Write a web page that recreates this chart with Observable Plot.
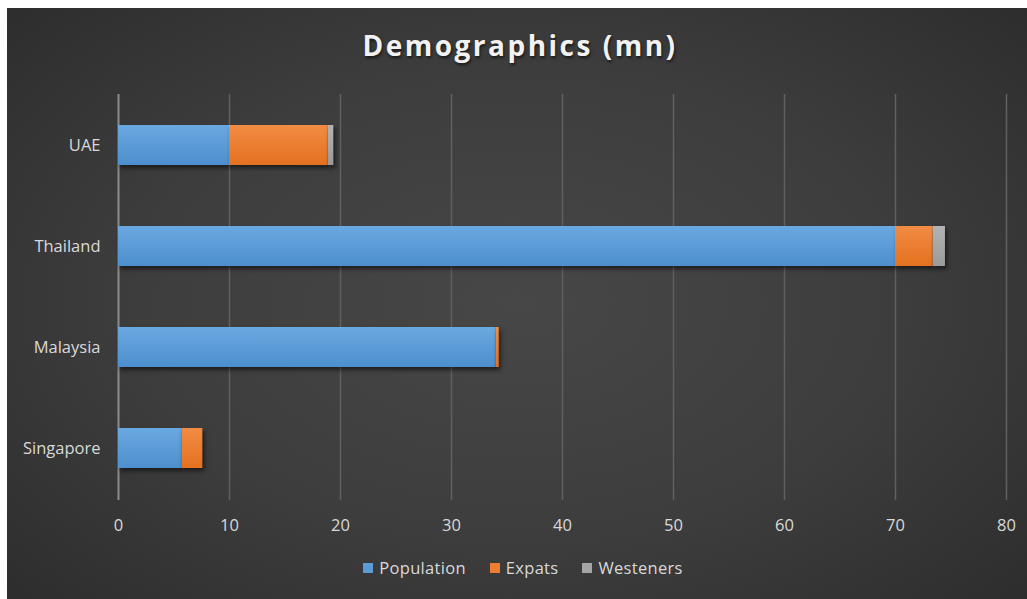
<!DOCTYPE html>
<html>
<head>
<meta charset="utf-8">
<script src="https://cdn.jsdelivr.net/npm/d3@7"></script>
<script src="https://cdn.jsdelivr.net/npm/@observablehq/plot@0.6"></script>
<style>
  html, body { margin: 0; padding: 0; background: #ffffff; }
  body { width: 1027px; height: 599px; position: relative; overflow: hidden; }
  #panel {
    position: absolute; left: 7px; top: 8px; width: 1020px; height: 591px;
    background: radial-gradient(ellipse 75% 80% at 50% 50%, #474747 0%, #3d3d3d 50%, #2a2a2a 100%);
    font-family: "Open Sans", sans-serif;
  }
  #title {
    position: absolute; left: 0; width: 100%; top: 18px; text-align: center;
    font-family: "Open Sans", sans-serif; font-weight: 700; font-size: 28px;
    letter-spacing: 2.5px; color: #f2f2f2; text-shadow: 1px 2px 3px rgba(0,0,0,0.6);
    padding-left: 6px; box-sizing: border-box;
  }
  #chart { position: absolute; left: 0; top: 72px; }
  #legend {
    position: absolute; top: 548px; left: 0; width: 100%;
    display: flex; justify-content: center; gap: 24px;
    font-size: 16.5px; letter-spacing: 0.3px; color: #d9d9d9; padding-left: 12px; box-sizing: border-box;
  }
  #legend span.item { display: inline-flex; align-items: center; gap: 6px; }
  #legend span.sw { width: 10px; height: 10px; display: inline-block; }
  g[aria-label="bar"] rect { filter: drop-shadow(2px 3px 2px rgba(0,0,0,0.55)); }
</style>
</head>
<body>
<div id="panel">
  <div id="title">Demographics (mn)</div>
  <div id="chart"></div>
  <div id="legend"></div>
</div>
<script>
// Countries, top to bottom
const countries = ["UAE", "Thailand", "Malaysia", "Singapore"];
// Stack segments, left to right
const seriesNames = ["Population", "Expats", "Westeners"];
const seriesColors = ["#5b9bd5", "#ed7d31", "#a5a5a5"];
// Values in millions, per country (same order as countries)
const population = [10, 70, 34, 5.7];
const expats = [8.9, 3.4, 0.3, 1.9];
const westeners = [0.5, 1.1, 0, 0];
const xTicks = [0, 10, 20, 30, 40, 50, 60, 70, 80];

const seriesValues = [population, expats, westeners];
const rows = [];
seriesNames.forEach((s, si) => {
  countries.forEach((c, ci) => {
    rows.push({country: c, series: s, value: seriesValues[si][ci]});
  });
});

// gradient ids used as fills for each series
const gradIds = ["grad-pop", "grad-exp", "grad-wes"];

const chart = Plot.plot({
  width: 1020,
  height: 456,
  marginLeft: 111,
  marginRight: 21,
  marginTop: 14,
  marginBottom: 36,
  style: {background: "transparent", color: "#d9d9d9", fontFamily: "Open Sans, sans-serif", fontSize: "16.5px"},
  x: {domain: [0, 80], ticks: xTicks, label: null, tickSize: 0, tickPadding: 19, tickFormat: d => String(d)},
  y: {domain: countries, label: null, tickSize: 0, tickPadding: 18, paddingInner: 0.6, paddingOuter: 0.3},
  color: {domain: seriesNames, range: gradIds.map(id => `url(#${id})`)},
  marks: [
    Plot.gridX(xTicks.filter(d => d > 0), {stroke: "#606060", strokeOpacity: 1, strokeWidth: 1.5}),
    Plot.ruleX([0], {stroke: "#8c8c8c", strokeWidth: 2}),
    Plot.barX(rows, Plot.stackX({y: "country", x: "value", fill: "series", order: seriesNames}))
  ]
});

// add vertical gradients for the bar fills
const defs = d3.select(chart).insert("defs", ":first-child");
const gradStops = [
  ["#6aa8e0", "#4d8fce"],
  ["#f28c44", "#e4711f"],
  ["#b3b3b3", "#9a9a9a"]
];
gradIds.forEach((id, i) => {
  const g = defs.append("linearGradient").attr("id", id)
    .attr("x1", 0).attr("y1", 0).attr("x2", 0).attr("y2", 1);
  g.append("stop").attr("offset", "0%").attr("stop-color", gradStops[i][0]);
  g.append("stop").attr("offset", "100%").attr("stop-color", gradStops[i][1]);
});

document.getElementById("chart").appendChild(chart);

// legend below the chart
const legend = d3.select("#legend");
seriesNames.forEach((s, i) => {
  const item = legend.append("span").attr("class", "item");
  item.append("span").attr("class", "sw").style("background", seriesColors[i]);
  item.append("span").text(s);
});
</script>
</body>
</html>
